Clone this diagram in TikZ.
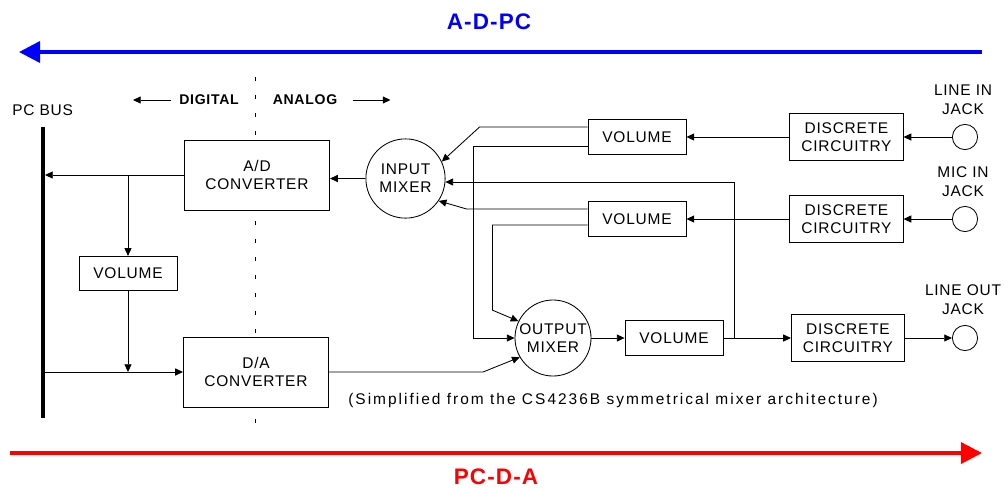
\documentclass[tikz,border=0pt]{standalone}
\usepackage{fontspec}
\setmainfont{Liberation Sans}[LetterSpace=5]
\usetikzlibrary{arrows.meta,calc}

\tikzset{
	blk/.style={draw, line width=0.6pt, fill=white, align=center, inner sep=0pt, font=\fontsize{11}{13}\selectfont},
	adbox/.style={blk, minimum width=3.63cm, minimum height=1.75cm},
	volbox/.style={blk, minimum width=2.45cm, minimum height=0.86cm},
	discbox/.style={blk, minimum width=2.83cm, minimum height=1.18cm},
	mixer/.style={blk, circle},
	jack/.style={draw, circle, line width=0.6pt, minimum size=0.63cm, inner sep=0pt},
	lbl/.style={align=center, inner sep=0pt, font=\fontsize{11}{13.5}\selectfont},
	arr/.style={line width=0.6pt, -{Triangle[length=5.5pt,width=5pt]}},
	bigarr/.style={line width=2.5pt, -{Triangle[length=15pt,width=15pt]}}
}

\begin{document}
\begin{tikzpicture}[x=0.025cm, y=-0.025cm]
			\useasboundingbox (0,0) rectangle (1004,489);

			\draw[blue, bigarr] (982,52)--(19,52);
			\draw[blue] (489,22) node[font=\fontsize{16}{18}\selectfont\bfseries]{A-D-PC};
			\draw[red, bigarr] (10,453)--(982,453);
			\draw[red] (496,477) node[font=\fontsize{16}{18}\selectfont\bfseries]{PC-D-A};

			\draw[line width=0.6pt, dash pattern=on 0.1cm off 0.35cm] (255,77)--(255,426);

			\node[lbl, anchor=west] (busl) at (12,110) {PC BUS};
			\node[lbl, font=\fontsize{10}{12}\selectfont\bfseries] (dig) at (209,100) {DIGITAL};
			\node[lbl, font=\fontsize{10}{12}\selectfont\bfseries] (ana) at (305,100) {ANALOG};
			\draw[arr] ($(dig.west)+(-8,0)$)--++(-38,0);
			\draw[arr] ($(ana.east)+(15,0)$)--++(38,0);

			\coordinate (busT) at (43,127);
			\coordinate (busB) at (43,418);
			\draw[line width=2.8pt] (busT)--(busB);

			\node[adbox] (ad) at (257,175) {A/D\\CONVERTER};
			\node[adbox] (da) at (256,372) {D/A\\CONVERTER};
			\node[volbox] (vol) at (128,273.5) {VOLUME};
			\node[mixer, minimum size=1.98cm] (im) at (405.5,178.5) {INPUT\\MIXER};
			\node[mixer, minimum size=1.9cm] (om) at (553,338) {OUTPUT\\MIXER};

			\foreach \n/\y/\t in {1/137/LINE IN, 2/219/MIC IN}
				{
					\node[volbox] (v\n) at (637,\y) {VOLUME};
					\node[discbox] (d\n) at (846.5,\y) {DISCRETE\\CIRCUITRY};
					\node[jack] (j\n) at (965,\y) {};
					\node[lbl] (l\n) at (963,\y-37) {\t\\JACK};
					\draw[arr] (j\n)--(d\n);
					\draw[arr] (d\n)--(v\n);
				}

			\node[volbox] (v3) at (674,338) {VOLUME};
			\node[discbox] (d3) at (848,338) {DISCRETE\\CIRCUITRY};
			\node[jack] (j3) at (965,338) {};
			\node[lbl] (l3) at (963,300) {LINE OUT\\JACK};
			\draw[arr] (om.east)--(v3.west);
			\draw[arr] (v3.east)--(d3.west);
			\draw[arr] (d3.east)--(j3.west);
			\coordinate (tap) at ($(v3.east)+(11,0)$);

			\draw[arr] (ad.west)--($(ad.west -| busT)+(2,0)$);
			\draw[arr] (ad.west -| vol.north)--(vol.north);
			\draw[arr] (vol.south)--(vol.south |- da.west);
			\draw[arr] (busB |- da.west)--(da.west);
			\draw[arr] (im.west)--(im.west -| ad.east);
			\draw[arr] (da.east)--++(154,0)--(om.210);

			\draw[arr] ($(v1.west)+(0,-10)$)--++(-108,0)--(im.25);
			\draw[arr] ($(v2.west)+(0,-10)$)--++(-121,0)--(im.-34);
			\draw[arr] (tap) |- (im.-5);
			\draw[arr] ($(v1.west)+(0,9)$) -| ($(om.west)+(-41,0)$)--(om.west);
			\draw[arr] ($(v2.west)+(0,6)$) -| ($(om.154)+(-26,-11)$)--(om.154);

			\node[lbl, anchor=west, font=\fontsize{11}{13.5}\selectfont\addfontfeature{LetterSpace=13}] (note) at (348,400) {(Simplified from the CS4236B symmetrical mixer architecture)};
		\end{tikzpicture}
\end{document}
